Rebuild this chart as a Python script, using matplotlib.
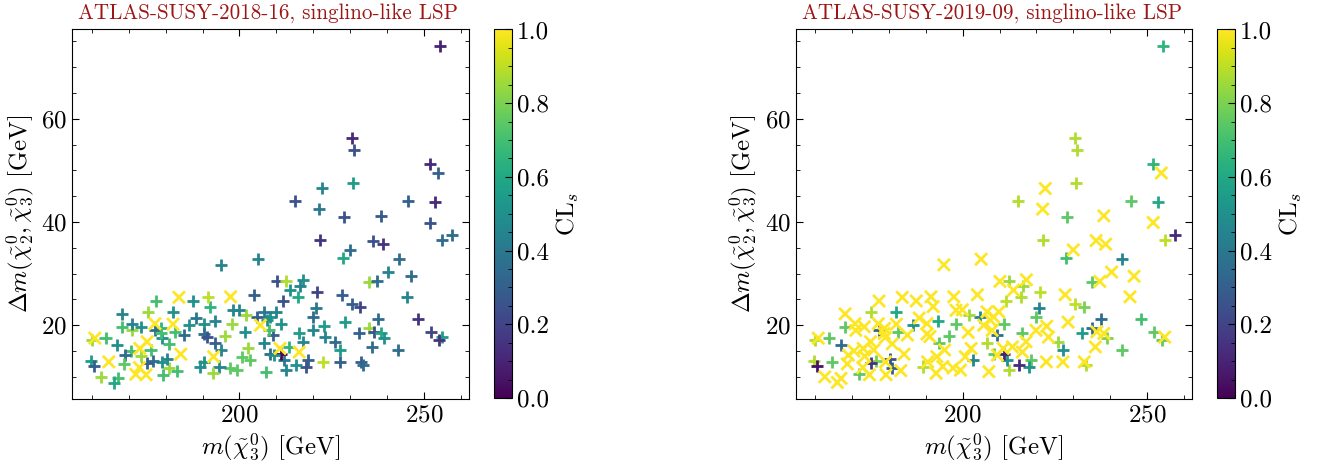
import numpy as np
import matplotlib
matplotlib.use("Agg")
import matplotlib.pyplot as plt
from matplotlib.ticker import MultipleLocator, FormatStrFormatter

plt.rcParams['font.family'] = 'serif'
plt.rcParams['font.serif'] = ['cmr10']
plt.rcParams['mathtext.fontset'] = 'cm'
plt.rcParams['axes.formatter.use_mathtext'] = True
plt.rcParams['axes.unicode_minus'] = False

# m(chi3) [GeV]
m_chi3 = [
    254.3, 230.5, 231.1, 251.7, 253.9, 230.7, 222.4, 215.0, 245.6, 253.1,
    221.7, 228.4, 238.3, 251.7, 221.8, 257.7, 255.0, 236.2, 238.8, 230.0,
    228.0, 205.0, 194.9, 243.3, 240.4, 246.5, 210.1, 212.6, 217.3, 216.4,
    213.8, 235.0, 237.2, 221.1, 204.0, 227.8, 245.4, 215.8, 211.7, 230.5,
    232.8, 220.8, 248.3, 237.5, 219.9, 222.8, 228.6, 235.0, 232.3, 236.4,
    238.3, 239.2, 252.0, 254.8, 254.1, 223.3, 219.9, 216.1, 217.2, 225.9,
    236.0, 227.2, 243.1, 227.2, 233.0, 233.4, 222.7, 218.5, 218.1, 215.3,
    212.6, 212.1, 211.2, 211.0, 213.5, 216.2, 209.2, 205.7, 208.0,
    207.5, 208.4, 209.8, 206.6, 211.2, 204.8, 201.8, 199.9, 198.2, 201.5,
    206.6, 208.4, 209.4, 202.3, 200.7, 202.8, 207.1, 199.4, 197.4, 198.1,
    197.6, 196.2, 193.5, 193.4, 192.0, 191.4, 190.3, 188.2, 187.4, 186.4,
    185.0, 190.3, 191.1, 195.1, 194.6, 193.0, 190.5, 189.2, 192.8, 183.6,
    184.1, 183.2, 180.9, 179.2, 182.0, 182.5, 182.0, 180.9, 180.3, 179.1,
    178.8, 179.0, 177.3, 177.1, 177.2, 175.2, 175.0, 175.9, 176.6,
    175.0, 174.7, 173.0, 173.4, 172.9, 171.9, 173.3, 171.0, 170.8, 170.5,
    169.0, 168.7, 168.1, 168.2, 166.9, 167.0, 166.0, 164.6, 163.7, 162.6,
    160.8, 160.0, 159.7, 160.6, 178.7,
]

# Delta m(chi2, chi3) [GeV]
dm_23 = [
    74.1, 56.3, 53.9, 51.3, 49.5, 47.5, 46.5, 44.1, 44.0, 43.9,
    42.5, 40.9, 41.2, 39.9, 36.6, 37.5, 36.6, 36.4, 35.7, 34.6,
    33.0, 32.8, 31.7, 32.8, 30.3, 29.5, 28.5, 28.6, 28.8, 27.6,
    26.8, 28.3, 28.5, 26.4, 25.9, 25.9, 25.5, 25.4, 24.7, 24.2,
    23.5, 23.4, 21.3, 21.3, 21.6, 19.8, 20.6, 19.4, 18.4, 18.7,
    18.4, 17.6, 18.6, 17.7, 17.1, 17.7, 19.0, 18.4, 16.8, 16.8,
    15.8, 15.2, 15.2, 12.9, 12.9, 12.3, 12.9, 13.2, 11.9, 12.3,
    11.3, 13.2, 14.5, 15.5, 15.8, 14.8, 18.1, 20.0, 19.0,
    21.0, 21.6, 22.6, 22.6, 20.3, 21.6, 21.9, 23.0, 22.9, 18.6,
    16.5, 14.5, 14.2, 15.5, 13.9, 13.3, 11.0, 11.3, 11.7, 20.3,
    25.5, 18.0, 16.5, 20.8, 23.6, 25.5, 20.3, 21.4, 24.7, 20.0,
    18.1, 18.3, 17.8, 15.2, 12.0, 13.9, 12.9, 12.0, 10.7, 25.4,
    14.4, 11.2, 11.7, 10.4, 20.2, 18.6, 22.6, 16.4, 13.4, 12.9,
    19.4, 17.6, 24.7, 20.3, 19.0, 22.5, 16.8, 15.2, 13.0,
    12.7, 10.4, 15.5, 14.0, 11.8, 10.5, 19.7, 19.0, 20.3, 15.0,
    14.2, 12.5, 22.2, 19.7, 16.1, 9.7, 8.9, 12.9, 17.6, 10.0,
    17.5, 17.1, 13.1, 12.1, 18.4,
]

# CLs for ATLAS-SUSY-2018-16
cls_2018_16 = [
    0.10, 0.12, 0.25, 0.12, 0.30, 0.55, 0.45, 0.25, 0.30, 0.12,
    0.40, 0.25, 0.28, 0.25, 0.15, 0.35, 0.35, 0.25, 0.15, 0.35,
    0.60, 0.45, 0.45, 0.35, 0.45, 0.35, 0.25, 0.88, 0.50, 0.45,
    0.50, 0.85, 0.35, 0.20, 0.30, 0.30, 0.45, 0.60, 0.25, 0.30,
    0.20, 0.40, 0.15, 0.35, 0.35, 0.55, 0.55, 0.85, 0.30, 0.25,
    0.60, 0.50, 0.20, 0.55, 0.15, 0.45, 0.45, 0.55, 0.45, 0.35,
    0.35, 0.55, 0.35, 0.30, 0.30, 0.35, 0.90, 0.30, 0.25, 0.50,
    0.45, 0.40, 0.02, 1.00, 0.65, 1.00, 0.30, 1.00, 0.70,
    0.50, 0.50, 0.45, 0.40, 0.50, 0.30, 0.85, 0.45, 0.45, 0.50,
    0.45, 0.35, 0.50, 0.85, 0.75, 0.75, 0.70, 0.75, 0.75, 0.85,
    1.00, 0.85, 0.30, 0.45, 0.65, 0.90, 0.50, 0.40, 0.50, 0.50,
    0.35, 0.35, 0.25, 0.45, 0.45, 1.00, 0.50, 0.50, 0.85, 1.00,
    1.00, 0.70, 0.85, 0.70, 1.00, 0.70, 0.50, 0.70, 0.45, 0.50,
    0.65, 0.50, 0.70, 1.00, 0.35, 0.85, 1.00, 0.70, 0.35,
    0.30, 1.00, 1.00, 0.85, 1.00, 1.00, 0.50, 0.85, 0.45, 0.70,
    0.35, 0.75, 0.45, 0.70, 0.50, 0.70, 0.60, 1.00, 0.70, 0.85,
    1.00, 0.85, 0.55, 0.30, 0.70,
]

# CLs for ATLAS-SUSY-2019-09
cls_2019_09 = [
    0.65, 0.88, 0.88, 0.65, 1.00, 0.88, 1.00, 0.88, 0.75, 0.60,
    1.00, 0.75, 1.00, 1.00, 0.88, 0.12, 0.90, 1.00, 1.00, 1.00,
    0.70, 1.00, 1.00, 0.45, 1.00, 1.00, 1.00, 0.85, 1.00, 0.85,
    1.00, 0.75, 1.00, 0.90, 1.00, 1.00, 1.00, 0.88, 0.90, 0.90,
    0.80, 0.45, 0.70, 0.35, 0.75, 1.00, 1.00, 0.35, 0.55, 1.00,
    1.00, 0.80, 0.75, 1.00, 0.75, 1.00, 1.00, 0.75, 1.00, 0.85,
    1.00, 0.50, 0.75, 1.00, 1.00, 0.88, 1.00, 0.75, 0.50, 0.12,
    0.88, 0.50, 0.10, 1.00, 1.00, 1.00, 0.35, 1.00, 1.00,
    1.00, 1.00, 1.00, 1.00, 0.75, 0.45, 0.85, 1.00, 1.00, 1.00,
    0.88, 0.75, 1.00, 1.00, 1.00, 0.45, 1.00, 1.00, 1.00, 0.75,
    1.00, 0.75, 0.75, 0.60, 1.00, 1.00, 1.00, 1.00, 1.00, 0.50,
    1.00, 1.00, 1.00, 1.00, 1.00, 1.00, 1.00, 0.88, 1.00, 1.00,
    1.00, 1.00, 0.30, 1.00, 1.00, 0.75, 0.60, 1.00, 0.25, 1.00,
    1.00, 1.00, 1.00, 1.00, 0.30, 0.88, 1.00, 1.00, 0.80,
    0.15, 1.00, 1.00, 1.00, 1.00, 0.75, 1.00, 1.00, 1.00, 1.00,
    1.00, 1.00, 1.00, 0.75, 0.35, 1.00, 1.00, 0.75, 0.75, 1.00,
    1.00, 0.88, 0.88, 0.05, 1.00,
]

panels = [
    ('ATLAS-SUSY-2018-16, singlino-like LSP', cls_2018_16),
    ('ATLAS-SUSY-2019-09, singlino-like LSP', cls_2019_09),
]

x = np.array(m_chi3)
y = np.array(dm_23)

fig = plt.figure(figsize=(13.17, 4.68), dpi=100)
ax_pos = [[0.0549, 0.1474, 0.3014, 0.7917], [0.6042, 0.1474, 0.3011, 0.7917]]
cax_pos = [[0.3753, 0.1496, 0.0137, 0.7874], [0.9243, 0.1496, 0.0135, 0.7874]]

for i, (title, cls) in enumerate(panels):
    ax = fig.add_axes(ax_pos[i])
    cax = fig.add_axes(cax_pos[i])
    c = np.array(cls)
    excl = c >= 0.95
    sc = ax.scatter(x[~excl], y[~excl], c=c[~excl], cmap='viridis', vmin=0, vmax=1,
                    marker='+', s=75, linewidths=2.0)
    ax.scatter(x[excl], y[excl], c=c[excl], cmap='viridis', vmin=0, vmax=1,
               marker='x', s=75, linewidths=2.0)
    ax.set_xlim(154.7, 262.3)
    ax.set_ylim(5.7, 77.5)
    ax.xaxis.set_major_locator(MultipleLocator(50))
    ax.xaxis.set_minor_locator(MultipleLocator(10))
    ax.yaxis.set_major_locator(MultipleLocator(20))
    ax.yaxis.set_minor_locator(MultipleLocator(5))
    ax.tick_params(which='both', direction='in', top=True, right=True, labelsize=18)
    ax.tick_params(which='major', length=5, width=0.8)
    ax.tick_params(which='minor', length=3, width=0.6)
    ax.set_xlabel(r'$m(\tilde{\chi}_3^0)$ [GeV]', fontsize=18)
    ax.set_ylabel(r'$\Delta m(\tilde{\chi}_2^0, \tilde{\chi}_3^0)$ [GeV]', fontsize=18)
    ax.text(0.015, 1.015, title, transform=ax.transAxes, fontsize=15.2,
            color='#9e1515', ha='left', va='bottom')

    cb = fig.colorbar(sc, cax=cax)
    cb.set_ticks(np.arange(0, 1.01, 0.2))
    cb.ax.yaxis.set_major_formatter(FormatStrFormatter('%.1f'))
    cb.ax.yaxis.set_minor_locator(MultipleLocator(0.05))
    cb.ax.tick_params(which='both', direction='in', labelsize=18)
    cb.ax.tick_params(which='major', length=5, width=0.8)
    cb.ax.tick_params(which='minor', length=3, width=0.6)
    cb.set_label('CL$_s$', fontsize=18)

fig.savefig('out.png', dpi=100)
